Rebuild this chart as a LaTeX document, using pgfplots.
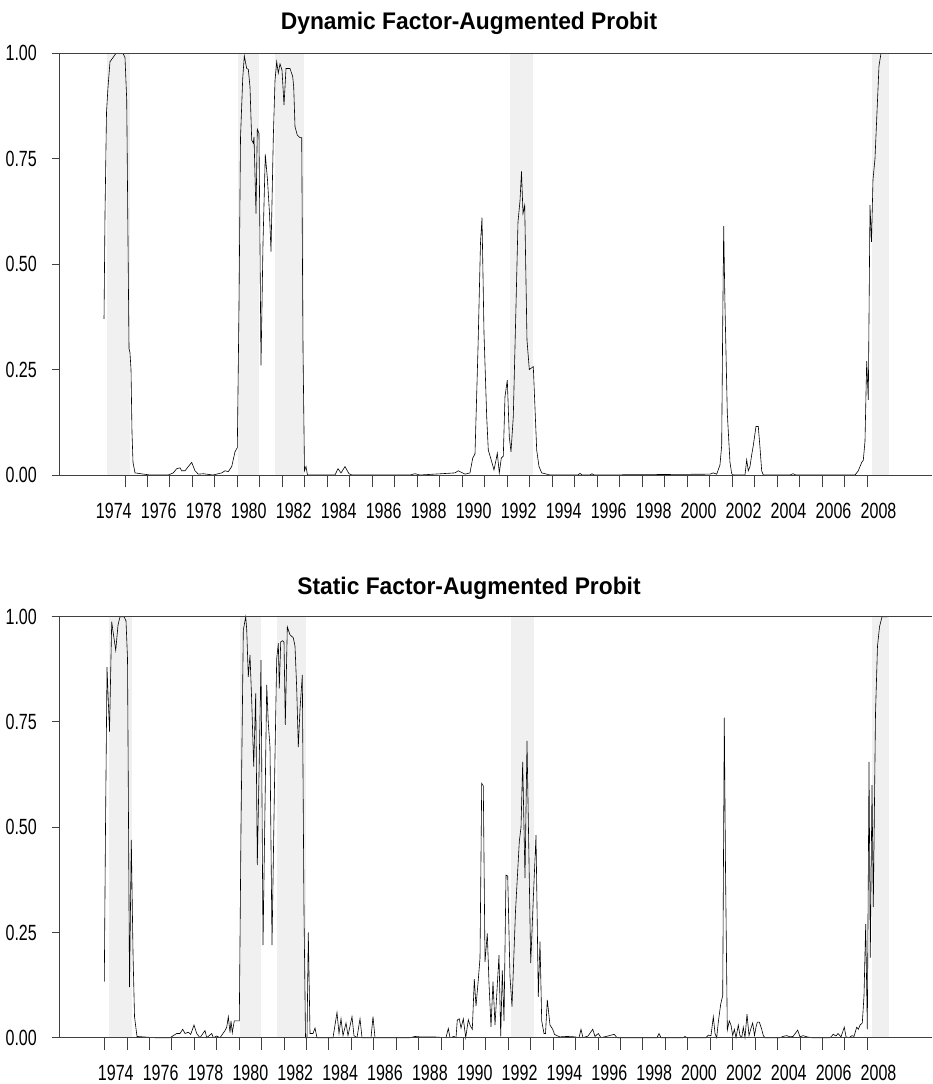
\documentclass[border=0pt]{standalone}
\usepackage{fontspec}
\setmainfont{Liberation Sans}
\newfontfamily\tickfont{Liberation Sans}[FakeStretch=0.73]
\newfontfamily\titlefont{Liberation Sans}[FakeStretch=0.95]
\usepackage{pgfplots}
\pgfplotsset{compat=1.18}
\definecolor{band}{gray}{0.94}
\definecolor{axgray}{gray}{0.25}
\pgfplotsset{panel/.style={
  scale only axis, width=872.7pt, ymin=0, ymax=1, clip=false,
  axis x line*=bottom, axis y line*=left,
  axis line style={axgray, line width=1pt},
  tick align=outside,
  every tick/.style={axgray, line width=1pt},
  every minor tick/.style={axgray, line width=1pt},
  x tick style={/pgfplots/major tick length=0pt, /pgfplots/minor tick length=12.3pt},
  y tick style={/pgfplots/major tick length=7.6pt},
  ytick={0,0.25,0.5,0.75,1}, yticklabels={0.00,0.25,0.50,0.75,1.00},
  yticklabel style={anchor=east, inner sep=0pt, xshift=-18pt},
  tick label style={font=\tickfont\fontsize{22}{24}\selectfont},
  xtick={1974,1976,1978,1980,1982,1984,1986,1988,1990,1992,1994,1996,1998,2000,2002,2004,2006,2008},
  xticklabels={1974,1976,1978,1980,1982,1984,1986,1988,1990,1992,1994,1996,1998,2000,2002,2004,2006,2008},
  xticklabel style={anchor=north, inner sep=0pt, yshift=-23.3pt},
}}
\begin{document}
\begin{tikzpicture}
\useasboundingbox (0,0) rectangle (932pt,-1084pt);
\node[font=\titlefont\bfseries\fontsize{24}{28}\selectfont, anchor=base] at (469pt,-29.5pt) {Dynamic Factor-Augmented Probit};
\node[font=\titlefont\bfseries\fontsize{24}{28}\selectfont, anchor=base] at (469pt,-594.5pt) {Static Factor-Augmented Probit};

\begin{axis}[panel, at={(59.3pt,-53.3pt)}, anchor=north west, height=421.7pt,
  xmin=1971.579, xmax=2010.377,
  minor xtick={1974.5,1975.5,1976.5,1977.5,1978.5,1979.5,1980.5,1981.5,1982.5,1983.5,1984.5,1985.5,1986.5,1987.5,1988.5,1989.5,1990.5,1991.5,1992.5,1993.5,1994.5,1995.5,1996.5,1997.5,1998.5,1999.5,2000.5,2001.5,2002.5,2003.5,2004.5,2005.5,2006.5,2007.5}]
\fill[band] (1973.70,0) rectangle (1974.72,1);
\fill[band] (1979.54,0) rectangle (1980.46,1);
\fill[band] (1981.17,0) rectangle (1982.47,1);
\fill[band] (1991.62,0) rectangle (1992.63,1);
\fill[band] (2007.70,0) rectangle (2008.46,1);
\addplot[black, line width=0.6pt] table {
x y
1973.567 0.37
1973.611 0.62
1973.678 0.86
1973.744 0.92
1973.833 0.98
1973.967 0.99
1974.100 1.0
1974.411 1.0
1974.500 0.99
1974.576 0.89
1974.634 0.55
1974.678 0.30
1974.722 0.29
1974.767 0.25
1974.811 0.10
1974.856 0.03
1974.945 0.005
1975.612 0.0
1976.425 0.0
1976.647 0.005
1976.799 0.015
1976.945 0.017
1977.021 0.01
1977.168 0.01
1977.314 0.02
1977.465 0.03
1977.612 0.01
1977.759 0.002
1977.981 0.003
1978.412 0.0
1978.799 0.005
1978.946 0.01
1979.092 0.008
1979.244 0.02
1979.390 0.055
1979.493 0.065
1979.568 0.40
1979.635 0.80
1979.733 0.94
1979.804 0.994
1979.910 0.964
1979.982 0.962
1980.057 0.92
1980.133 0.794
1980.204 0.787
1980.235 0.802
1980.324 0.62
1980.382 0.82
1980.457 0.81
1980.546 0.26
1980.635 0.55
1980.737 0.76
1980.835 0.70
1980.924 0.62
1980.991 0.53
1981.093 0.80
1981.169 0.936
1981.244 0.98
1981.315 0.953
1981.391 0.975
1981.480 0.96
1981.569 0.877
1981.658 0.964
1981.835 0.964
1981.955 0.945
1982.000 0.92
1982.058 0.826
1982.160 0.806
1982.280 0.80
1982.356 0.80
1982.413 0.30
1982.480 0.01
1982.547 0.02
1982.613 0.0
1983.836 0.0
1983.969 0.015
1984.103 0.005
1984.281 0.02
1984.458 0.003
1984.592 0.0
1987.170 0.0
1987.392 0.003
1987.615 0.0
1989.171 0.005
1989.317 0.01
1989.615 0.002
1989.837 0.005
1989.958 0.04
1990.060 0.05
1990.193 0.30
1990.304 0.55
1990.371 0.61
1990.460 0.336
1990.580 0.138
1990.651 0.059
1990.758 0.04
1990.904 0.012
1990.993 0.035
1991.051 0.052
1991.140 0.005
1991.229 0.04
1991.318 0.045
1991.393 0.186
1991.496 0.225
1991.585 0.09
1991.660 0.055
1991.762 0.138
1991.882 0.40
1991.971 0.60
1992.060 0.65
1992.127 0.72
1992.194 0.62
1992.269 0.64
1992.371 0.32
1992.474 0.25
1992.549 0.253
1992.652 0.257
1992.803 0.059
1992.905 0.02
1993.025 0.005
1993.394 0.0
1994.639 0.0
1994.728 0.004
1994.817 0.0
1995.172 0.0
1995.261 0.003
1995.350 0.0
2000.507 0.002
2000.654 0.005
2000.805 0.002
2000.951 0.024
2001.027 0.07
2001.071 0.35
2001.116 0.59
2001.174 0.40
2001.276 0.147
2001.396 0.03
2001.472 0.003
2001.552 0.0
2002.063 0.0
2002.138 0.036
2002.210 0.01
2002.285 0.02
2002.361 0.048
2002.432 0.07
2002.552 0.115
2002.654 0.115
2002.730 0.065
2002.805 0.01
2002.876 0.0
2004.063 0.0
2004.197 0.003
2004.330 0.0
2006.953 0.0
2007.100 0.01
2007.251 0.03
2007.322 0.035
2007.398 0.08
2007.473 0.27
2007.544 0.178
2007.620 0.64
2007.687 0.553
2007.753 0.70
2007.842 0.75
2007.931 0.86
2008.020 0.97
2008.109 1.0
2008.376 1.0
};
\draw[axgray, line width=1pt] ([xshift=-7.6pt]axis cs:1971.579,1) -- (axis cs:2010.377,1);
\draw[axgray, line width=1pt] ([xshift=-7.6pt]axis cs:1971.579,0) -- (axis cs:2010.377,0);
\end{axis}

\begin{axis}[panel, at={(59.3pt,-616.7pt)}, anchor=north west, height=421pt,
  xmin=1971.481, xmax=2010.384,
  minor xtick={1973.5,1974.5,1975.5,1976.5,1977.5,1978.5,1979.5,1980.5,1981.5,1982.5,1983.5,1984.5,1985.5,1986.5,1987.5,1988.5,1989.5,1990.5,1991.5,1992.5,1993.5,1994.5,1995.5,1996.5,1997.5,1998.5,1999.5,2000.5,2001.5,2002.5,2003.5,2004.5,2005.5,2006.5,2007.5}]
\fill[band] (1973.70,0) rectangle (1974.72,1);
\fill[band] (1979.54,0) rectangle (1980.46,1);
\fill[band] (1981.17,0) rectangle (1982.47,1);
\fill[band] (1991.62,0) rectangle (1992.63,1);
\fill[band] (2007.70,0) rectangle (2008.46,1);
\addplot[black, line width=0.6pt] table {
x y
1973.487 0.133
1973.541 0.50
1973.608 0.88
1973.719 0.727
1973.817 0.988
1973.889 0.96
1973.996 0.92
1974.098 0.98
1974.187 1.0
1974.366 1.0
1974.455 0.99
1974.522 0.90
1974.611 0.12
1974.691 0.47
1974.767 0.20
1974.834 0.05
1974.945 0.003
1975.747 0.0
1976.416 0.0
1976.715 0.01
1976.862 0.01
1976.982 0.02
1977.085 0.01
1977.232 0.013
1977.339 0.008
1977.486 0.03
1977.606 0.01
1977.753 0.0
1977.976 0.017
1978.052 0.0
1978.275 0.01
1978.346 0.0
1978.498 0.004
1978.645 0.0
1978.868 0.017
1978.944 0.025
1979.015 0.05
1979.091 0.012
1979.135 0.04
1979.193 0.012
1979.282 0.04
1979.389 0.04
1979.505 0.04
1979.581 0.50
1979.684 0.968
1979.791 1.0
1979.835 0.97
1979.906 0.857
1979.982 0.909
1980.058 0.80
1980.147 0.644
1980.236 0.818
1980.308 0.41
1980.392 0.65
1980.473 0.897
1980.562 0.22
1980.651 0.55
1980.727 0.838
1980.798 0.747
1980.874 0.69
1980.963 0.22
1981.074 0.60
1981.172 0.90
1981.244 0.937
1981.288 0.83
1981.351 0.94
1981.440 0.943
1981.498 0.94
1981.556 0.743
1981.645 0.976
1981.765 0.957
1981.912 0.95
1981.988 0.93
1982.064 0.83
1982.135 0.69
1982.211 0.78
1982.314 0.862
1982.389 0.30
1982.456 0.0
1982.523 0.0
1982.581 0.25
1982.657 0.01
1982.791 0.01
1982.880 0.023
1982.969 0.0
1983.682 0.0
1983.860 0.06
1983.950 0.01
1984.039 0.045
1984.128 0.005
1984.262 0.035
1984.351 0.005
1984.529 0.05
1984.617 0.005
1984.751 0.0
1984.886 0.045
1984.975 0.0
1985.376 0.0
1985.465 0.05
1985.554 0.0
1987.115 0.0
1987.338 0.003
1987.561 0.002
1988.140 0.002
1988.719 0.0
1988.822 0.022
1988.898 0.0
1989.076 0.003
1989.165 0.0
1989.223 0.042
1989.312 0.045
1989.388 0.023
1989.491 0.045
1989.598 0.0
1989.713 0.043
1989.789 0.03
1989.892 0.02
1989.981 0.139
1990.057 0.075
1990.159 0.138
1990.235 0.189
1990.311 0.604
1990.382 0.598
1990.458 0.18
1990.560 0.248
1990.636 0.13
1990.725 0.026
1990.814 0.133
1990.904 0.03
1991.082 0.196
1991.158 0.003
1991.229 0.16
1991.305 0.04
1991.394 0.386
1991.470 0.384
1991.572 0.145
1991.661 0.074
1991.817 0.30
1991.987 0.466
1992.063 0.50
1992.138 0.655
1992.241 0.379
1992.330 0.705
1992.495 0.177
1992.611 0.33
1992.731 0.481
1992.834 0.097
1992.910 0.228
1992.985 0.04
1993.088 0.01
1993.155 0.01
1993.235 0.09
1993.355 0.03
1993.476 0.02
1993.556 0.008
1993.654 0.005
1993.801 0.002
1994.113 0.003
1994.470 0.002
1994.648 0.0
1994.737 0.02
1994.826 0.0
1995.049 0.004
1995.259 0.02
1995.361 0.003
1995.508 0.01
1995.629 0.0
1996.222 0.008
1996.342 0.0
1998.125 0.0
1998.214 0.01
1998.303 0.0
1999.284 0.0
1999.373 0.003
1999.462 0.0
2000.309 0.0
2000.412 0.006
2000.532 0.005
2000.635 0.05
2000.711 0.01
2000.786 0.0
2000.858 0.037
2000.965 0.08
2001.054 0.10
2001.125 0.76
2001.179 0.40
2001.259 0.018
2001.348 0.04
2001.424 0.03
2001.500 0.005
2001.571 0.02
2001.647 0.0
2001.749 0.03
2001.825 0.005
2001.901 0.0
2001.972 0.025
2002.048 0.0
2002.137 0.056
2002.226 0.005
2002.302 0.02
2002.391 0.035
2002.471 0.005
2002.538 0.025
2002.596 0.037
2002.686 0.037
2002.792 0.02
2002.863 0.005
2002.939 0.0
2003.608 0.0
2003.742 0.003
2003.907 0.005
2004.054 0.002
2004.188 0.003
2004.397 0.018
2004.500 0.002
2004.634 0.005
2004.812 0.002
2005.035 0.0
2005.838 0.0
2005.984 0.008
2006.104 0.004
2006.193 0.01
2006.327 0.002
2006.474 0.025
2006.551 0.002
2006.684 0.0
2006.818 0.005
2006.907 0.003
2007.027 0.025
2007.099 0.02
2007.174 0.03
2007.277 0.035
2007.353 0.10
2007.428 0.27
2007.500 0.02
2007.576 0.655
2007.633 0.19
2007.709 0.60
2007.767 0.31
2007.865 0.77
2007.954 0.93
2008.044 0.976
2008.155 1.0
2008.391 1.0
};
\draw[axgray, line width=1pt] ([xshift=-7.6pt]axis cs:1971.481,1) -- (axis cs:2010.384,1);
\draw[axgray, line width=1pt] ([xshift=-7.6pt]axis cs:1971.481,0) -- (axis cs:2010.384,0);
\end{axis}
\end{tikzpicture}
\end{document}
